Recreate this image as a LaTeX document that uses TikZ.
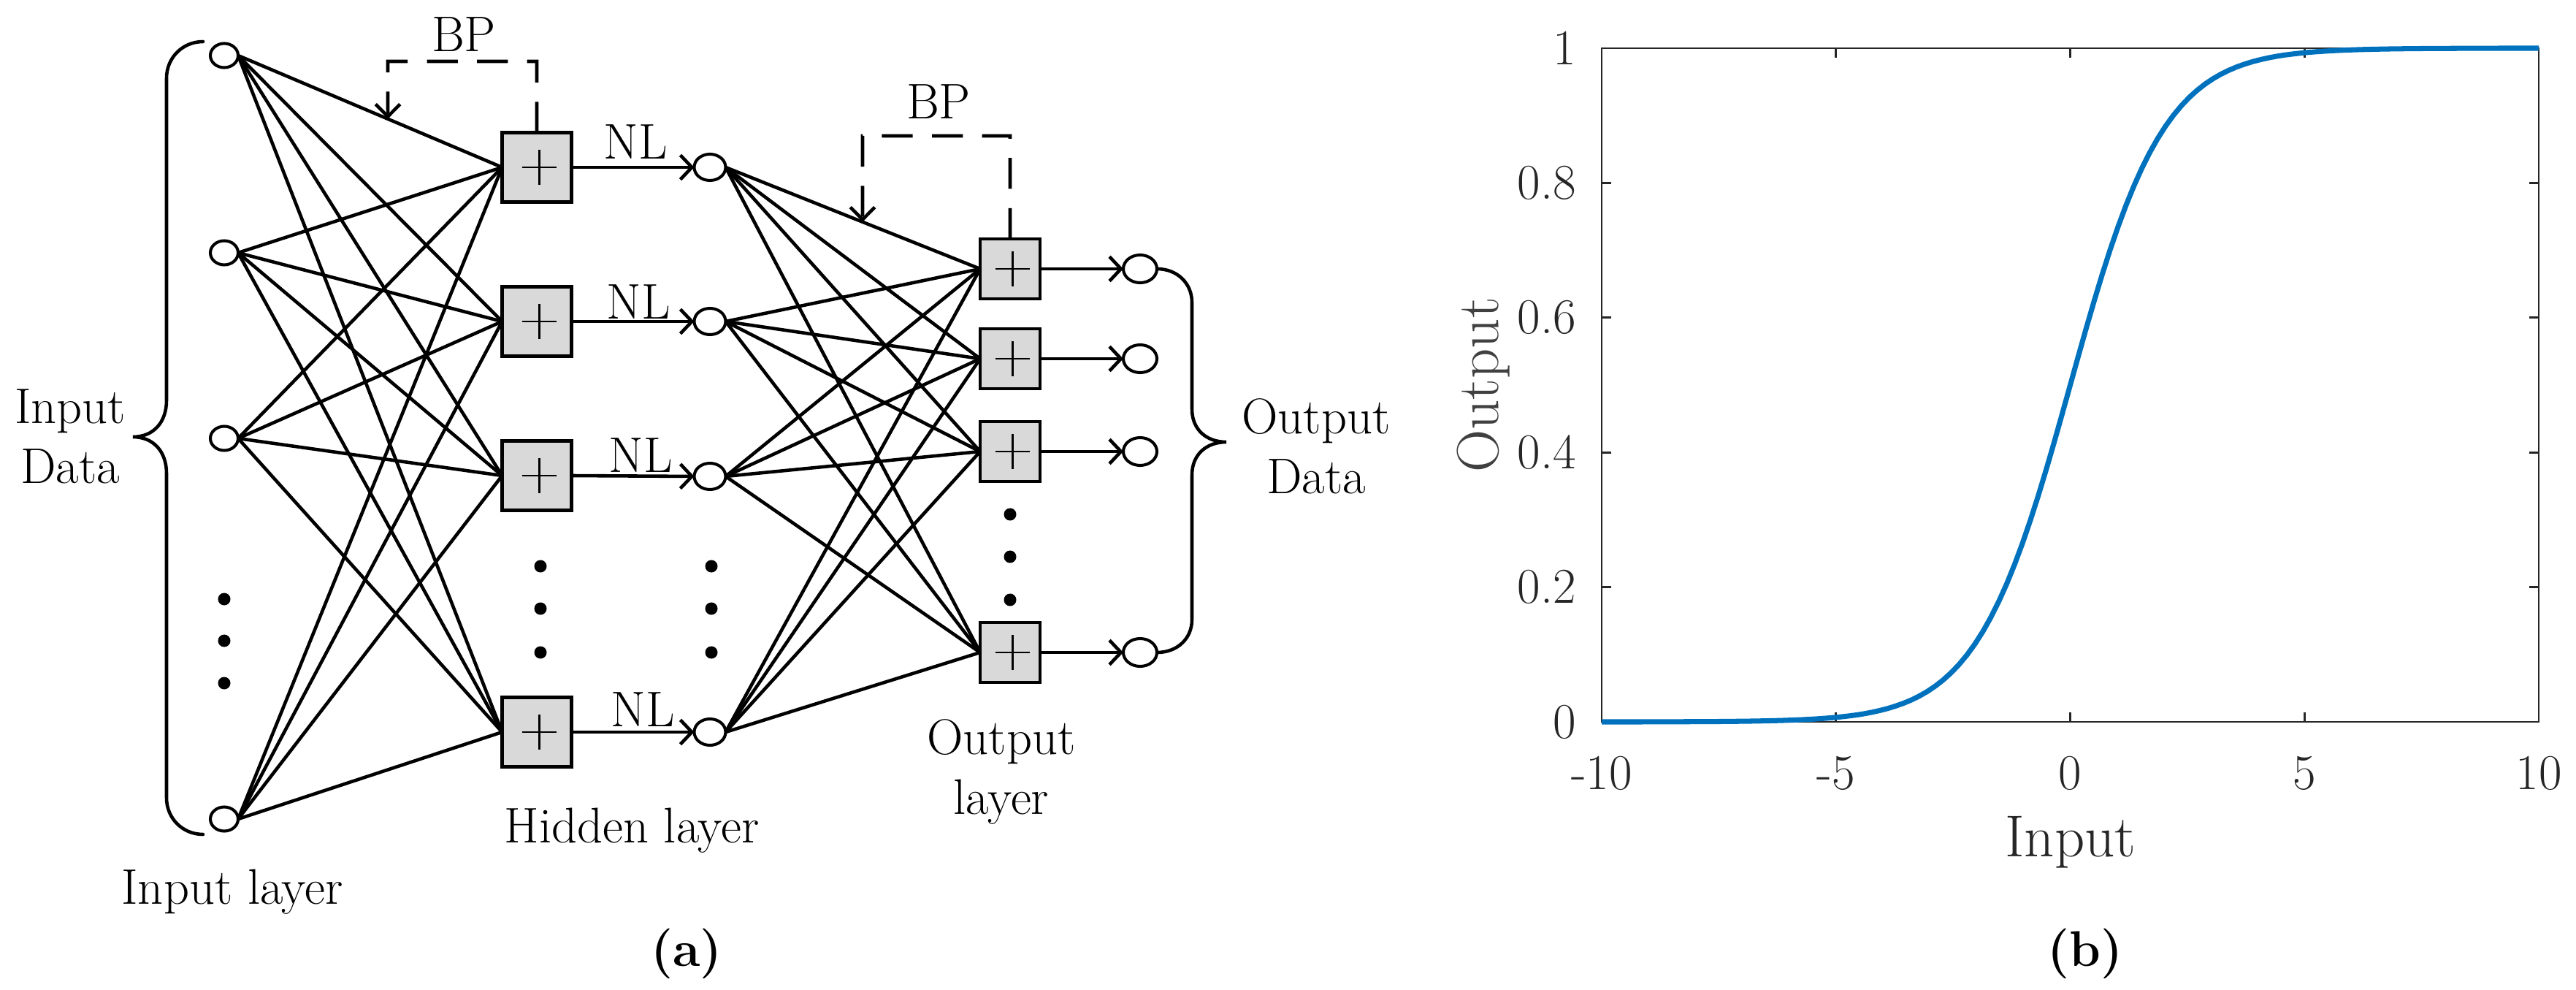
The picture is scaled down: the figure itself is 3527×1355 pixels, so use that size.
\documentclass[tikz,border=0pt]{standalone}
\usepackage{fontspec}
\usetikzlibrary{arrows.meta,shapes.geometric,calc}
\definecolor{mblue}{HTML}{0072BD}
\definecolor{axgray}{HTML}{262626}
\definecolor{ylabgray}{HTML}{404040}
\definecolor{boxgray}{HTML}{D9D9D9}
\begin{document}
\begin{tikzpicture}[x=0.01cm,y=-0.01cm,
  every node/.style={inner sep=0pt, outer sep=0pt, font=\fontsize{19.5}{23.3}\selectfont},
  innode/.style={ellipse, draw, line width=1.15pt, fill=white, minimum width=0.38cm, minimum height=0.33cm},
  hidnode/.style={ellipse, draw, line width=1.15pt, fill=white, minimum width=0.43cm, minimum height=0.36cm},
  outnode/.style={ellipse, draw, line width=1.15pt, fill=white, minimum width=0.46cm, minimum height=0.38cm},
  plusbox/.style={rectangle, draw, line width=1.35pt, fill=boxgray,
    path picture={\draw[line width=0.6pt]
      ([xshift=-0.2cm]path picture bounding box.center) -- ([xshift=0.27cm]path picture bounding box.center)
      ([xshift=0.035cm,yshift=-0.235cm]path picture bounding box.center) -- ([xshift=0.035cm,yshift=0.235cm]path picture bounding box.center);}},
  hbox/.style={plusbox, minimum size=0.95cm},
  obox/.style={plusbox, minimum size=0.82cm},
  dotnode/.style={circle, fill=black, minimum size=0.17cm},
  conn/.style={line width=1.3pt},
  arr/.style={line width=1.3pt, -{Straight Barb[length=4.5pt,width=9.5pt]}},
  bpdash/.style={line width=1.3pt, dash pattern=on 12pt off 7.5pt, -{Straight Barb[length=4.8pt,width=9.5pt]}},
  brace/.style={line width=1.3pt, line cap=round},
  lbl/.style={anchor=base},
  tick/.style={line width=0.75pt, draw=axgray},
  ticklbl/.style={text=axgray},
  axlbl/.style={font=\fontsize{23}{27}\selectfont}
]
\useasboundingbox (0,0) rectangle (3527,1355);

% ---------------- (a) network ----------------
% input layer
\node[innode] (i1) at (307,76) {};
\node[innode] (i2) at (307,346) {};
\node[innode] (i3) at (307,600) {};
\node[innode] (i4) at (307,1121) {};
\node[dotnode] (di1) at (307,820) {};
\node[dotnode] (di2) at (307,877) {};
\node[dotnode] (di3) at (307,935) {};

% hidden layer sums
\node[hbox] (h1) at (735,229) {};
\node[hbox] (h2) at (735,440) {};
\node[hbox] (h3) at (735,651) {};
\node[hbox] (h4) at (735,1002) {};
\node[dotnode] (dh1) at (740,775) {};
\node[dotnode] (dh2) at (740,833) {};
\node[dotnode] (dh3) at (740,893) {};

% hidden nodes
\node[hidnode] (n1) at (972,229) {};
\node[hidnode] (n2) at (972,440) {};
\node[hidnode] (n3) at (972,652) {};
\node[hidnode] (n4) at (972,1002) {};
\node[dotnode] (dn1) at (974,775) {};
\node[dotnode] (dn2) at (974,833) {};
\node[dotnode] (dn3) at (974,893) {};

% output sums
\node[obox] (q1) at (1383,368) {};
\node[obox] (q2) at (1383,491) {};
\node[obox] (q3) at (1383,618) {};
\node[obox] (q4) at (1383,893) {};
\node[dotnode] (dq1) at (1383,704) {};
\node[dotnode] (dq2) at (1383,762) {};
\node[dotnode] (dq3) at (1383,821) {};

% output nodes
\node[outnode] (o1) at (1561,368) {};
\node[outnode] (o2) at (1561,491) {};
\node[outnode] (o3) at (1561,618) {};
\node[outnode] (o4) at (1561,893) {};

% connections
\foreach \a in {1,...,4}{
  \foreach \b in {1,...,4}{
    \draw[conn] (i\a.east) -- (h\b.west);
    \draw[conn] (n\a.east) -- (q\b.west);
  }
  \draw[arr] (h\a.east) -- (n\a.west);
  \draw[arr] (q\a.east) -- (o\a.west);
}

% NL labels
\node[lbl] (nl1) at (870,218) {NL};
\node[lbl] (nl2) at (874,436) {NL};
\node[lbl] (nl3) at (877,646) {NL};
\node[lbl] (nl4) at (880,994) {NL};

% BP feedback
\draw[bpdash] (h1.north) |- (531,84) -- (intersection cs: first line={(i1.east)--(h1.west)}, second line={(531,0)--(531,300)});
\node[lbl] (bp1) at (635,71) {BP};
\draw[bpdash] (q1.north) |- (1181,186) -- (intersection cs: first line={(n1.east)--(q1.west)}, second line={(1181,0)--(1181,400)});
\node[lbl] (bp2) at (1285,163) {BP};

% braces
\draw[brace] (278,57) .. controls (250,57) and (228,79) .. (228,107) -- (228,548)
  .. controls (228,578) and (210,598) .. (182,598)
  .. controls (210,598) and (228,618) .. (228,648) -- (228,1092)
  .. controls (228,1120) and (250,1142) .. (278,1142);
\draw[brace] (o1.east) .. controls (1612,368) and (1632,388) .. (1632,414) -- (1632,560)
  .. controls (1632,588) and (1652,605) .. (1679,605)
  .. controls (1652,605) and (1632,622) .. (1632,650) -- (1632,848)
  .. controls (1632,874) and (1612,893) .. (o4.east);

% labels
\node[anchor=north, align=center] (indata) at (96,533) {Input\\Data};
\node[anchor=north, align=center] (outdata) at (1802,546) {Output\\Data};
\node[lbl] (inlayer) at (318,1237) {Input layer};
\node[lbl] (hidlayer) at (865,1153) {Hidden layer};
\node[anchor=north, align=center] (outlayer) at (1371,985) {Output\\layer};
\node[lbl, font=\fontsize{19.5}{23.3}\selectfont\bfseries] (capa) at (940,1322) {(a)};

% ---------------- (b) sigmoid plot ----------------
\draw[line width=0.75pt, draw=axgray] (2193,66) rectangle (3476,988);
\foreach \v in {0.2,0.4,0.6,0.8}{
  \draw[tick] (2193,{988-922*\v}) -- (2206,{988-922*\v});
  \draw[tick] (3476,{988-922*\v}) -- (3463,{988-922*\v});
}
\foreach \u in {-5,0,5}{
  \draw[tick] ({2193+64.15*(\u+10)},988) -- ({2193+64.15*(\u+10)},975);
  \draw[tick] ({2193+64.15*(\u+10)},66) -- ({2193+64.15*(\u+10)},79);
}
\node[ticklbl, anchor=east] (y0) at (2158,988) {0};
\node[ticklbl, anchor=east] (y2) at (2158,803.6) {0.2};
\node[ticklbl, anchor=east] (y4) at (2158,619.2) {0.4};
\node[ticklbl, anchor=east] (y6) at (2158,434.8) {0.6};
\node[ticklbl, anchor=east] (y8) at (2158,250.4) {0.8};
\node[ticklbl, anchor=east] (y10) at (2158,66) {1};
\node[ticklbl, anchor=north] (x1) at (2193,1035) {-10};
\node[ticklbl, anchor=north] (x2) at (2513.75,1035) {-5};
\node[ticklbl, anchor=north] (x3) at (2834.5,1035) {0};
\node[ticklbl, anchor=north] (x4) at (3155.25,1035) {5};
\node[ticklbl, anchor=north] (x5) at (3476,1035) {10};
\node[axlbl, text=axgray, anchor=base] (xlab) at (2835,1172) {Input};
\node[axlbl, text=ylabgray, rotate=90] (ylab) at (2031,527) {Output};

\draw[mblue, line width=2pt, line join=round]
  plot[domain=-10:0, samples=60] ({2193+64.15*(\x+10)},{988-922*exp(\x)/(1+exp(\x))})
  -- plot[domain=0:10, samples=60] ({2193+64.15*(\x+10)},{988-922/(1+exp(-\x))});

\node[lbl, font=\fontsize{19.5}{23.3}\selectfont\bfseries] (capb) at (2855,1322) {(b)};
\end{tikzpicture}
\end{document}
